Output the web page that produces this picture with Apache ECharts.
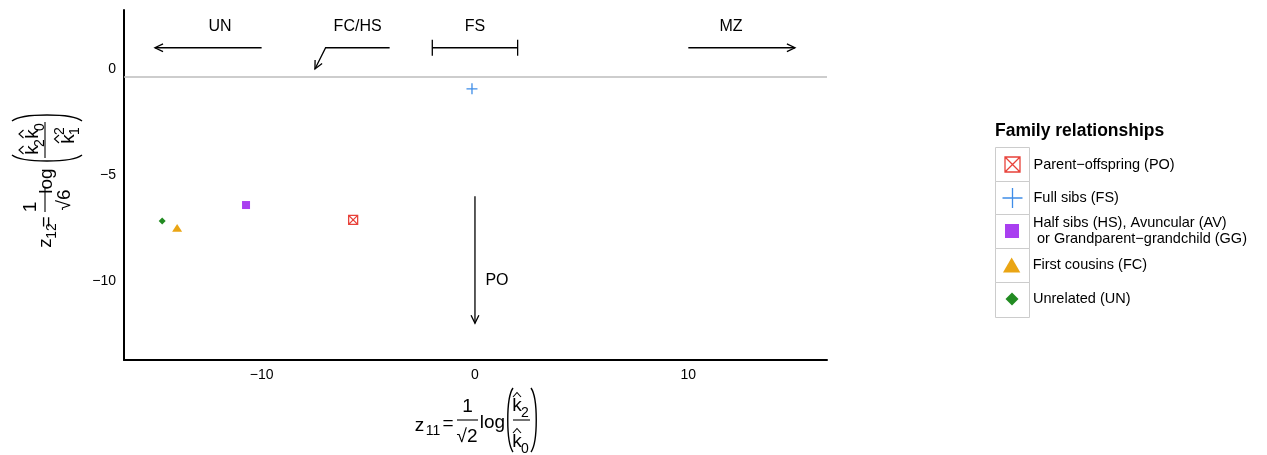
<!DOCTYPE html>
<html>
<head>
<meta charset="utf-8">
<script src="https://cdn.jsdelivr.net/npm/echarts@6/dist/echarts.min.js"></script>
<style>
  html, body { margin: 0; padding: 0; background: #fff; }
  #chart { width: 1267px; height: 455px; }
</style>
</head>
<body>
<div id="chart"></div>
<script>
var FONT = '"Liberation Sans", Arial, sans-serif';

// relationship groups and where they sit
var relNames = [
    'Parent−offspring (PO)',
    'Full sibs (FS)',
    'Half sibs (HS), Avuncular (AV)\n or Grandparent−grandchild (GG)',
    'First cousins (FC)',
    'Unrelated (UN)'
];
var relColors = ['#e8423a', '#3f8de8', '#a93ff0', '#eaa514', '#228b22'];
var z11 = [-5.71, -0.14, -10.73, -13.96, -14.66];
var z12 = [-7.12, -0.94, -6.42, -7.50, -7.17];

var xTicks = [-10, 0, 10];
var yTicks = [-10, -5, 0];
var baseLineY = -0.38;

// annotation arrows, in data units
var arrowUN = [[-10, 1], [-15, 1]];
var arrowFCHS = [[-4, 1], [-7, 1], [-7.5, 0]];
var arrowMZ = [[10, 1], [15, 1]];
var arrowPO = [[0, -6], [0, -12]];
var bracketFS = [[-2, 1], [2, 1]];
var annoText = ['UN', 'FC/HS', 'FS', 'MZ', 'PO'];
var annoX = [-11.95, -5.5, 0, 12, 1.03];
var annoY = [2, 2, 2, 2, -10];

var symbols = [
    'path://M0,0H10V10H0Z M0,0L10,10 M10,0L0,10',
    'path://M5,0V10 M0,5H10',
    'path://M0,0H10V10H0Z',
    'path://M5,0L10,8.66L0,8.66Z',
    'path://M5,0L10,5L5,10L0,5Z'
];
var plotSizes = [[9, 9], [11, 11], [8, 8], [10, 9], [7, 7]];
var legendSizes = [[15, 15], [20, 20], [14, 14], [18, 15], [13, 13]];
var legendRows = [164, 197.5, 231, 265, 299];
var legendEdges = [147, 181, 214, 248, 282, 317];

var hollow = [true, true, false, false, false];

function styleFor(i) {
    if (hollow[i]) {
        return { color: 'none', borderColor: relColors[i], borderWidth: 1.3, opacity: 1 };
    }
    return { color: relColors[i], borderWidth: 0, opacity: 1 };
}

var series = relNames.map(function (name, i) {
    return {
        name: name,
        type: 'scatter',
        symbol: symbols[i],
        symbolSize: plotSizes[i],
        symbolKeepAspect: true,
        itemStyle: styleFor(i),
        data: [[z11[i], z12[i]]],
        silent: true
    };
});
series[0].markLine = {
    silent: true,
    symbol: ['none', 'none'],
    label: { show: false },
    lineStyle: { color: '#bdbdbd', type: 'solid', width: 1.5 },
    data: [{ yAxis: baseLineY }]
};

function arrowParts(api, pts, head) {
    var px = pts.map(function (p) { return api.coord(p); });
    var out = [{
        type: 'polyline',
        shape: { points: px },
        style: { stroke: '#000', lineWidth: 1.3, fill: null }
    }];
    if (head) {
        var a = px[px.length - 1], b = px[px.length - 2];
        var ang = Math.atan2(a[1] - b[1], a[0] - b[0]);
        var L = 9, w = 0.45;
        out.push({
            type: 'polyline',
            shape: { points: [
                [a[0] - L * Math.cos(ang - w), a[1] - L * Math.sin(ang - w)],
                a,
                [a[0] - L * Math.cos(ang + w), a[1] - L * Math.sin(ang + w)]
            ] },
            style: { stroke: '#000', lineWidth: 1.3, fill: null }
        });
    }
    return out;
}

series.push({
    type: 'custom',
    silent: true,
    data: [[0, 0]],
    renderItem: function (params, api) {
        var kids = [];
        kids = kids.concat(arrowParts(api, arrowUN, true));
        kids = kids.concat(arrowParts(api, arrowFCHS, true));
        kids = kids.concat(arrowParts(api, arrowMZ, true));
        kids = kids.concat(arrowParts(api, arrowPO, true));
        kids = kids.concat(arrowParts(api, bracketFS, false));
        bracketFS.forEach(function (p) {
            var c = api.coord(p);
            kids.push({
                type: 'line',
                shape: { x1: c[0], y1: c[1] - 8, x2: c[0], y2: c[1] + 8 },
                style: { stroke: '#000', lineWidth: 1.3 }
            });
        });
        annoText.forEach(function (t, i) {
            var c = api.coord([annoX[i], annoY[i]]);
            kids.push({
                type: 'text',
                x: c[0], y: c[1],
                style: {
                    text: t, font: '16px ' + FONT, fill: '#000',
                    textAlign: 'center', textVerticalAlign: 'middle'
                }
            });
        });
        return { type: 'group', children: kids };
    }
});

// plotmath-like axis titles
var MS = 19, SS = 14;
function t(s, x, y, size) {
    return {
        type: 'text', x: x, y: y, silent: true,
        style: { text: s, font: size + 'px ' + FONT, fill: '#000', textAlign: 'center', textVerticalAlign: 'middle' }
    };
}
function ln(x1, y1, x2, y2) {
    return { type: 'line', silent: true, shape: { x1: x1, y1: y1, x2: x2, y2: y2 }, style: { stroke: '#000', lineWidth: 1.1 } };
}
function hat(x, y) {
    return { type: 'polyline', silent: true, shape: { points: [[x - 4, y + 2.5], [x, y - 2], [x + 4, y + 2.5]] }, style: { stroke: '#000', lineWidth: 1.1, fill: null } };
}
function paren(x0, y0, y1, bulge) {
    return {
        type: 'bezierCurve', silent: true,
        shape: { x1: x0, y1: y0, cpx1: x0 + bulge, cpy1: y0 + 10, cpx2: x0 + bulge, cpy2: y1 - 10, x2: x0, y2: y1 },
        style: { stroke: '#000', lineWidth: 1.4, fill: null }
    };
}

var xTitle = {
    type: 'group', children: [
        t('z', 419.5, 426, MS), t('11', 433, 431, SS), t('=', 448, 424, MS),
        t('1', 467.5, 407, MS), ln(457, 420, 478, 420), t('√2', 467, 437, MS),
        t('log', 492.5, 423, MS),
        paren(513, 388, 452, -7),
        t('k', 517, 406, MS), hat(517, 394.5), t('2', 525, 413, SS),
        ln(513, 420, 530, 420),
        t('k', 517, 442, MS), hat(517, 430.5), t('0', 525, 449, SS),
        paren(531, 388, 452, 7)
    ]
};

var yTitle = {
    type: 'group', x: 45, y: 200, rotation: Math.PI / 2, children: [
        t('z', -43, 1, MS), t('12', -31, 7, SS), t('=', -22, 2, MS),
        t('1', -7, -14, MS), ln(-12, 0, 13, 0), t('√6', 0, 20, MS),
        t('log', 19, 2, MS),
        paren(45, -33, 37, -8),
        t('k', 50, -12, MS), hat(50, -24), t('2', 57, -5, SS),
        t('k', 66, -12, MS), hat(66, -24), t('0', 73, -5, SS),
        ln(42, 0, 78, 0),
        t('k', 61, 24, MS), hat(61, 11.5), t('2', 69, 15, SS), t('1', 69, 30, SS),
        paren(79, -33, 37, 8)
    ]
};

var keyBoxes = [];
for (var r = 0; r < 5; r++) {
    keyBoxes.push({
        type: 'rect', silent: true,
        shape: { x: 995.5, y: legendEdges[r] + 0.5, width: 34, height: legendEdges[r + 1] - legendEdges[r] },
        style: { fill: null, stroke: '#cccccc', lineWidth: 1 }
    });
}

var legends = relNames.map(function (name, i) {
    var w = legendSizes[i][0], h = legendSizes[i][1];
    var textH = name.indexOf('\n') >= 0 ? 32 : 16;
    // unfilled icons get a wider hit box in their bounding rect
    var pad = hollow[i] ? 2 : 0;
    return {
        data: [{ name: name, icon: symbols[i], itemStyle: styleFor(i) }],
        orient: 'vertical',
        left: 1012 - w / 2 - pad,
        top: legendRows[i] - Math.max(h + 2 * pad, textH) / 2,
        itemWidth: w,
        itemHeight: h,
        padding: 0,
        selectedMode: false,
        textStyle: {
            fontFamily: FONT, fontSize: 14.5, color: '#000', lineHeight: 16,
            padding: [0, 0, 0, 16 - w / 2]
        }
    };
});

var chart = echarts.init(document.getElementById('chart'));
chart.setOption({
    animation: false,
    backgroundColor: '#fff',
    title: {
        text: 'Family relationships',
        left: 995, top: 122, padding: 0,
        textStyle: { fontFamily: FONT, fontSize: 17.5, fontWeight: 'bold', color: '#000' }
    },
    legend: legends,
    grid: { left: 124, top: 10, right: 440, bottom: 95 },
    xAxis: {
        type: 'value', min: -16.45, max: 16.5,
        axisLine: { onZero: false, lineStyle: { color: '#000', width: 2 } },
        axisTick: { show: false },
        splitLine: { show: false },
        axisLabel: {
            customValues: xTicks, margin: 8,
            fontFamily: FONT, fontSize: 14, color: '#000',
            formatter: function (v) { return String(v).replace('-', '−'); }
        }
    },
    yAxis: {
        type: 'value', min: -13.73, max: 2.78,
        axisLine: { show: true, onZero: false, lineStyle: { color: '#000', width: 2 } },
        axisTick: { show: false },
        splitLine: { show: false },
        axisLabel: {
            customValues: yTicks, margin: 8,
            fontFamily: FONT, fontSize: 14, color: '#000',
            formatter: function (v) { return String(v).replace('-', '−'); }
        }
    },
    graphic: [xTitle, yTitle].concat(keyBoxes),
    series: series
});
</script>
</body>
</html>
